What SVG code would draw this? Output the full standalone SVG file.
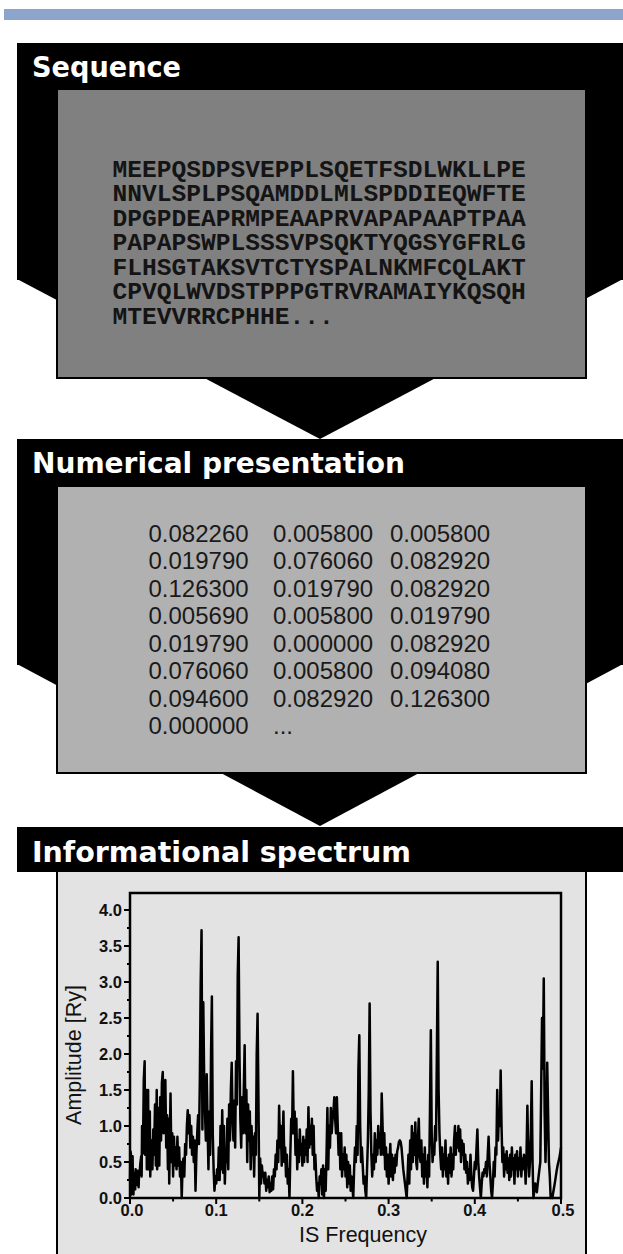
<svg xmlns="http://www.w3.org/2000/svg" width="623" height="1254" viewBox="0 0 623 1254">
  <style>
    .blk { fill: #000; }
    .panel { stroke: #000; stroke-width: 2; }
    .head { font-family: "DejaVu Sans", Verdana, sans-serif; font-weight: bold; font-size: 29px; fill: #fff; }
    .seq { font-family: "Liberation Mono", "Courier New", monospace; font-weight: bold; font-size: 24.6px; fill: #141414; }
    .num { font-family: "Liberation Sans", Arial, sans-serif; font-size: 24px; fill: #1a1a1a; }
    .tl { font-family: "Liberation Sans", Arial, sans-serif; font-weight: bold; font-size: 16.5px; fill: #111; }
    .at { font-family: "Liberation Sans", Arial, sans-serif; font-size: 21.5px; fill: #111; }
    .ax { stroke: #000; stroke-width: 2.5; fill: none; }
    .tk { stroke: #000; stroke-width: 2; }
    .trace { fill: none; stroke: #000; stroke-width: 2.5; stroke-linejoin: round; }
  </style>

  <!-- page rule -->
  <rect x="4" y="9" width="619" height="11" fill="#8DA5CB"/>

  <!-- downward arrows between the stages -->
  <g id="connectors">
    <polygon class="blk" points="17,279 623,279 320,439"/>
    <polygon class="blk" points="17,664 623,664 320,826"/>
  </g>

  <!-- stage 1: sequence -->
  <g id="node-sequence">
    <rect class="blk" x="17" y="43" width="606" height="237"/>
    <text class="head" x="32" y="77" textLength="149" lengthAdjust="spacingAndGlyphs">Sequence</text>
    <rect class="panel" x="57" y="89" width="529" height="289" fill="#808080"/>
    <g class="seq">
      <text x="112.5" y="176.5">MEEPQSDPSVEPPLSQETFSDLWKLLPE</text>
      <text x="112.5" y="201">NNVLSPLPSQAMDDLMLSPDDIEQWFTE</text>
      <text x="112.5" y="225.5">DPGPDEAPRMPEAAPRVAPAPAAPTPAA</text>
      <text x="112.5" y="250">PAPAPSWPLSSSVPSQKTYQGSYGFRLG</text>
      <text x="112.5" y="274.5">FLHSGTAKSVTCTYSPALNKMFCQLAKT</text>
      <text x="112.5" y="299">CPVQLWVDSTPPPGTRVRAMAIYKQSQH</text>
      <text x="112.5" y="323.5">MTEVVRRCPHHE...</text>
    </g>
  </g>

  <!-- stage 2: numerical presentation -->
  <g id="node-numerical">
    <rect class="blk" x="17" y="439" width="606" height="226"/>
    <text class="head" x="32" y="473" textLength="373" lengthAdjust="spacingAndGlyphs">Numerical presentation</text>
    <rect class="panel" x="57" y="486" width="529" height="287" fill="#b1b1b1"/>
    <g class="num">
      <text x="148.5" y="541.7">0.082260</text><text x="273" y="541.7">0.005800</text><text x="390" y="541.7">0.005800</text>
      <text x="148.5" y="569.2">0.019790</text><text x="273" y="569.2">0.076060</text><text x="390" y="569.2">0.082920</text>
      <text x="148.5" y="596.7">0.126300</text><text x="273" y="596.7">0.019790</text><text x="390" y="596.7">0.082920</text>
      <text x="148.5" y="624.2">0.005690</text><text x="273" y="624.2">0.005800</text><text x="390" y="624.2">0.019790</text>
      <text x="148.5" y="651.7">0.019790</text><text x="273" y="651.7">0.000000</text><text x="390" y="651.7">0.082920</text>
      <text x="148.5" y="679.2">0.076060</text><text x="273" y="679.2">0.005800</text><text x="390" y="679.2">0.094080</text>
      <text x="148.5" y="706.7">0.094600</text><text x="273" y="706.7">0.082920</text><text x="390" y="706.7">0.126300</text>
      <text x="148.5" y="734.2">0.000000</text><text x="273" y="734.2">...</text>
    </g>
  </g>

  <!-- stage 3: informational spectrum -->
  <g id="node-spectrum">
    <rect class="blk" x="17" y="827" width="606" height="45"/>
    <text class="head" x="32" y="862" textLength="379" lengthAdjust="spacingAndGlyphs">Informational spectrum</text>
    <rect class="panel" x="57" y="871" width="529" height="390" fill="#e3e3e3"/>

    <!-- spectrum trace: x = frequency x 1000, y = amplitude x 100 -->
    <g transform="translate(130,1198) scale(0.862,-0.72)">
      <polyline class="trace" vector-effect="non-scaling-stroke" points="0,25 0.5,65 1,62 1.5,5 2,8 2.5,40 3,58 3.5,10 4,5 4.5,35 5,32 6,12 6.5,40 7,35 8,18 8.5,30 9,38 10,15 10.5,35 11,32 12,48 13,58 13.5,30 14,100 15,62 16,165 17,190 17.5,60 18,95 18.5,150 19,150 19.5,40 20,62 21,150 21.5,40 22,75 23,120 23.5,30 24,55 25,80 26,40 27,95 28,60 29,130 30,45 31,150 31.5,40 32,75 33,125 34,45 35,140 36,80 37,160 38,175 39,90 40,120 41,164 42,70 43,115 44,40 45,110 45.5,20 46,60 47,145 48,50 49,90 50,30 51,85 52,45 53,70 54,40 55,85 56,45 57,70 58,30 59,50 60,0 61,45 62,55 63,30 64,75 65,60 66,100 67,122 68,90 69,115 70,70 71,100 72,60 73,85 74,50 75,80 76,10 77,60 78,90 79,115 80,75 81,160 82,298 83,372 84,95 85,272 86,170 87,120 88,80 89,172 90,100 91,40 92,120 93,60 94,200 95,280 96,90 97,40 98,10 99,30 100,20 101,40 102,25 103,70 104,25 105,100 106,40 107,122 108,35 109,100 110,20 111,60 112,50 113,110 114,40 115,130 116,80 117,150 118,188 119,110 120,80 121,135 122,70 123,190 124,130 125,310 126,362 127,200 128,110 129,70 130,140 131,90 132,150 133,212 134,90 135,150 136,50 137,130 138,80 139,120 140,40 141,100 142,60 143,85 144,30 145,90 146,60 147,200 148,256 149,140 150,0 151,55 152,20 153,45 154,30 155,35 156,20 157,35 158,10 159,25 160,15 161,30 162,8 163,20 164,10 165,30 166,12 167,40 168,30 169,60 170,40 171,80 172,50 173,128 174,70 175,100 176,45 177,80 178,120 179,50 180,70 181,30 182,60 183,20 184,40 185,0 186,60 187,110 188,90 189,176 190,90 191,120 192,60 193,110 194,40 195,80 196,50 197,95 198,60 199,75 200,45 201,85 202,50 203,80 204,60 205,95 206,50 207,126 208,70 209,100 210,75 211,110 212,60 213,100 214,40 215,60 216,30 217,10 218,20 219,0 220,30 221,20 222,40 223,5 224,45 225,0 226,40 227,10 228,60 229,125 230,40 231,100 232,70 233,125 234,90 235,110 236,120 237,140 238,110 239,90 240,140 241,100 242,60 243,90 244,40 245,90 246,30 247,60 248,40 249,70 250,30 251,60 252,15 253,50 254,20 255,45 256,10 257,30 258,15 259,0 260,40 261,70 262,50 263,100 264,60 265,180 266,226 267,100 268,50 269,70 270,45 271,20 272,30 273,10 274,0 275,40 276,80 277,150 278,270 279,120 280,60 281,30 282,60 283,40 284,90 285,50 286,80 287,60 288,100 289,70 290,90 291,60 292,145 293,100 294,60 295,90 296,40 297,70 298,30 299,60 300,20 301,50 302,75 303,30 304,60 305,25 306,55 307,35 308,60 309,45 310,65 311,70 312,78 313,80 314,78 315,70 316,55 317,40 318,30 319,20 320,10 321,0 322,30 323,60 324,20 325,80 326,40 327,100 328,50 329,90 330,60 331,105 332,50 333,40 334,80 335,110 336,60 337,50 338,80 339,30 340,60 341,20 342,70 343,30 344,50 345,15 346,60 347,30 348,120 349,233 350,90 351,50 352,70 353,60 354,100 355,80 356,200 357,328 358,150 359,90 360,60 361,40 362,70 363,30 364,60 365,40 366,80 367,30 368,55 369,20 370,60 371,35 372,70 373,30 374,60 375,40 376,80 377,100 378,60 379,90 380,70 381,100 382,65 383,95 384,50 385,80 386,60 387,75 388,40 389,60 390,35 391,50 392,20 393,40 394,25 395,60 396,30 397,15 398,10 399,30 400,50 401,40 402,70 403,95 404,50 405,30 406,15 407,0 408,20 409,35 410,30 411,40 412,35 413,50 414,30 415,60 416,85 417,50 418,30 419,10 420,0 421,20 422,50 423,30 424,70 425,60 426,150 427,80 428,120 429,100 430,177 431,100 432,50 433,70 434,30 435,60 436,40 437,65 438,35 439,55 440,25 441,60 442,30 443,70 444,40 445,55 446,20 447,60 448,40 449,65 450,30 451,55 452,40 453,70 454,30 455,55 456,40 457,60 458,50 459,20 460,60 461,128 462,60 463,30 464,50 465,90 466,162 467,50 468,0 469,10 470,20 471,15 472,8 473,20 474,30 475,40 476,50 477,150 478,250 479,180 480,305 481,120 482,50 483,100 484,188 485,120 486,50 487,30 488,0 489,5 490,0 491,8 492,15 493,22 494,30 495,38 496,45 497,50 498,55 499,62 500,70"/>
    </g>

    <!-- axes frame -->
    <rect class="ax" x="130" y="893" width="431" height="305"/>

    <!-- y ticks -->
    <path class="tk" d="M124,1198H130M124,1162H130M124,1126H130M124,1090H130M124,1054H130M124,1018H130M124,982H130M124,946H130M124,910H130
                        M127,1180H130M127,1144H130M127,1108H130M127,1072H130M127,1036H130M127,1000H130M127,964H130M127,928H130"/>
    <!-- x ticks -->
    <path class="tk" d="M130,1198V1204M216.2,1198V1204M302.4,1198V1204M388.6,1198V1204M474.8,1198V1204M561,1198V1204
                        M173.1,1198V1201.5M259.3,1198V1201.5M345.5,1198V1201.5M431.7,1198V1201.5M517.9,1198V1201.5"/>

    <g class="tl" text-anchor="end">
      <text x="122" y="1203.5">0.0</text>
      <text x="122" y="1167.5">0.5</text>
      <text x="122" y="1131.5">1.0</text>
      <text x="122" y="1095.5">1.5</text>
      <text x="122" y="1059.5">2.0</text>
      <text x="122" y="1023.5">2.5</text>
      <text x="122" y="987.5">3.0</text>
      <text x="122" y="951.5">3.5</text>
      <text x="122" y="915.5">4.0</text>
    </g>
    <g class="tl" text-anchor="middle">
      <text x="132" y="1216">0.0</text>
      <text x="216.2" y="1216">0.1</text>
      <text x="302.4" y="1216">0.2</text>
      <text x="388.6" y="1216">0.3</text>
      <text x="474.8" y="1216">0.4</text>
      <text x="563" y="1216">0.5</text>
    </g>
    <text class="at" x="363" y="1242" text-anchor="middle">IS Frequency</text>
    <text class="at" transform="translate(80.5,1055) rotate(-90)" text-anchor="middle">Amplitude [Ry]</text>
  </g>
</svg>
